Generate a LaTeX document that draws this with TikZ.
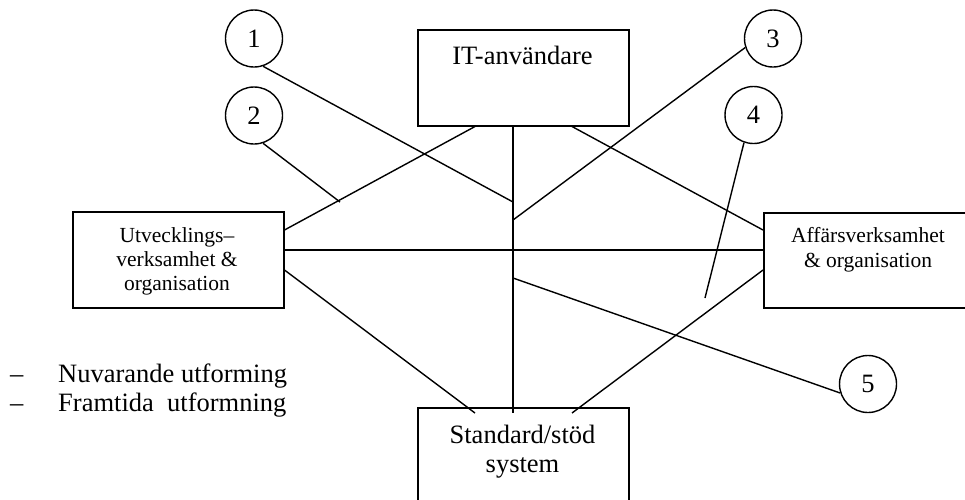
\documentclass[tikz,border=0pt]{standalone}
\usepackage{fontspec}
\setmainfont{Liberation Serif}
\begin{document}
\begin{tikzpicture}[x=1pt,y=-1pt,
  ln/.style={line width=1.4pt,black},
  boxnode/.style={draw,line width=1.5pt,anchor=north west,inner sep=0pt},
  numc/.style={draw,circle,line width=1.4pt,minimum size=57pt,inner sep=0pt,font=\fontsize{26.5}{30}\selectfont},
  bigt/.style={anchor=base,inner sep=0pt,font=\fontsize{26.5}{30}\selectfont},
  smallt/.style={anchor=base,inner sep=0pt,font=\fontsize{21.5}{25}\selectfont},
  legt/.style={anchor=base west,inner sep=0pt,font=\fontsize{26.5}{30}\selectfont}]
\useasboundingbox (0,0) rectangle (965,499);
% boxes
\node[boxnode,minimum width=211pt,minimum height=96pt] (T) at (417,29) {};
\node[boxnode,minimum width=211pt,minimum height=96pt] (L) at (72,211) {};
\node[boxnode,minimum width=212pt,minimum height=95pt] (R) at (763,212) {};
\node[boxnode,minimum width=211pt,minimum height=100pt] (B) at (417,407) {};
% box texts
\node[bigt] (Tt) at (522.5,64) {IT-användare};
\node[smallt] (Lt1) at (177,242) {Utvecklings–};
\node[smallt] (Lt2) at (177,266) {verksamhet \&};
\node[smallt] (Lt3) at (177,290) {organisation};
\node[smallt] (Rt1) at (868,242) {Affärsverksamhet};
\node[smallt] (Rt2) at (868,267) {\& organisation};
\node[bigt] (Bt1) at (522.5,443) {Standard/stöd};
\node[bigt] (Bt2) at (522.5,472) {system};
% circles
\node[numc] (c1) at (254,38.5) {1};
\node[numc] (c2) at (254,115.5) {2};
\node[numc] (c3) at (773,38.5) {3};
\node[numc] (c4) at (753.5,115) {4};
\node[numc] (c5) at (868,384) {5};
% free ends
\coordinate (p1) at (513,202);
\coordinate (p2) at (340,202);
\coordinate (p3) at (513,220);
\coordinate (p4) at (705,298);
\coordinate (p5) at (513,278);
% connectors between boxes
\draw[ln] ([xshift=58pt]T.south west) -- ([yshift=-19pt]L.north east);
\draw[ln] ([xshift=96pt]T.south west) -- ([xshift=96pt,yshift=-6pt]B.north west);
\draw[ln] ([xshift=155pt]T.south west) -- ([yshift=-18pt]R.north west);
\draw[ln] ([yshift=-39pt]L.north east) -- ([yshift=-38pt]R.north west);
\draw[ln] ([yshift=-59pt]L.north east) -- ([xshift=58pt,yshift=-6pt]B.north west);
\draw[ln] ([yshift=-58pt]R.north west) -- ([xshift=155pt,yshift=-6pt]B.north west);
% circle connectors
\draw[ln] (c1.-72) -- (p1);
\draw[ln] (c2.-72) -- (p2);
\draw[ln] (c3.198) -- (p3);
\draw[ln] (c4.-109) -- (p4);
\draw[ln] (p5) -- (c5.198);
% legend
\node[legt] (d1) at (10,382) {–};
\node[legt] (l1) at (58,382) {Nuvarande utforming};
\node[legt] (d2) at (10,411) {–};
\node[legt] (l2) at (58,411) {Framtida\ \ utformning};
\end{tikzpicture}
\end{document}
